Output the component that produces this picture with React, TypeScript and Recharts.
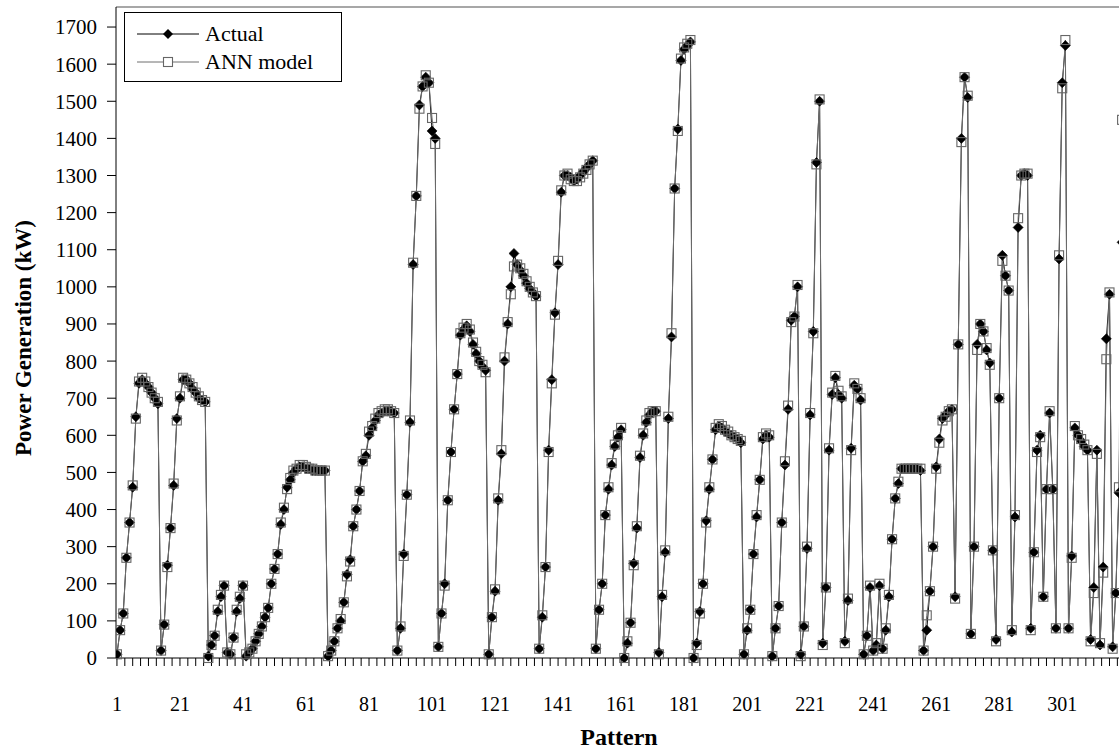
import React from 'react';
import { LineChart, Line, XAxis, YAxis, ReferenceLine } from 'recharts';

const FONT = '"Liberation Serif", "Times New Roman", Times, serif';

// Pattern index labels on the x axis
const xTickLabels = [1, 21, 41, 61, 81, 101, 121, 141, 161, 181, 201, 221, 241, 261, 281, 301];
// Minor tick marks every 2.5 patterns (8 per labelled interval)
const xTickMarks = Array.from({ length: 131 }, (_, k) => 1 + k * 2.5);
const yTicks = [0, 100, 200, 300, 400, 500, 600, 700, 800, 900, 1000, 1100, 1200, 1300, 1400, 1500, 1600, 1700];

// Actual power generation (kW), pattern 1..320
const actual = [
  10, 75, 120, 270, 365, 460, 650, 740, 750, 740, 730, 715, 700, 685,
  20, 90, 250, 350, 465, 645, 700, 750, 750, 740, 725, 715, 700, 695, 690,
  5, 35, 60, 125, 165, 195, 15, 10, 55, 125, 160, 195,
  5, 15, 25, 45, 65, 85, 110, 135, 200, 240, 280, 360, 400, 460, 480, 500, 510, 515, 515, 510, 510, 505, 505, 505, 505, 505,
  5, 20, 45, 80, 100, 150, 225, 265, 355, 400, 450, 530, 545, 600, 620, 640, 655, 660, 665, 665, 665, 660,
  20, 80, 280, 440, 635, 1060, 1245, 1490, 1540, 1565, 1550, 1420, 1400,
  30, 120, 200, 425, 555, 670, 765, 870, 885, 895, 880, 845, 820, 800, 785, 775,
  10, 110, 180, 425, 550, 800, 900, 1000, 1090, 1060, 1045, 1030, 1010, 995, 985, 975,
  25, 110, 245, 560, 750, 930, 1060, 1255, 1300, 1300, 1295, 1285, 1290, 1300, 1310, 1320, 1330, 1340,
  25, 130, 200, 385, 455, 520, 570, 595, 615,
  0, 40, 95, 255, 350, 540, 600, 635, 655, 665, 665,
  15, 165, 285, 645, 865, 1265, 1425, 1610, 1640, 1650, 1660,
  0, 40, 125, 200, 370, 455, 535, 615, 625, 620, 610, 605, 600, 595, 590, 580,
  10, 75, 130, 280, 380, 480, 590, 600, 595,
  5, 80, 140, 365, 520, 670, 910, 920, 1000,
  10, 85, 295, 655, 880, 1335, 1500,
  40, 190, 560, 710, 755, 710, 700,
  45, 155, 565, 735, 725, 695,
  10, 60, 190, 20, 35, 195, 25, 75, 165, 320, 430, 470, 510, 510, 510, 510, 510, 510, 505,
  20, 75, 180, 300, 515, 590, 645, 655, 665, 670,
  165, 845, 1400, 1565, 1510,
  65, 300, 845, 900, 880, 830, 795, 290,
  50, 700, 1085, 1030, 990,
  70, 380, 1160, 1300, 1305, 1300,
  80, 285, 560, 600, 165, 455, 660, 455,
  80, 1075, 1550, 1650,
  80, 275, 620, 600, 585, 570, 560,
  50, 190, 560, 35, 245, 860, 980, 30, 175, 445,
  1120,
];

// ANN model output (kW), pattern 1..320
const ann = [
  10, 75, 120, 270, 365, 465, 645, 745, 755, 745, 730, 715, 700, 690,
  20, 90, 245, 350, 470, 640, 705, 755, 750, 740, 730, 715, 705, 695, 690,
  0, 35, 60, 130, 170, 195, 15, 10, 55, 130, 165, 195,
  10, 15, 25, 45, 65, 85, 110, 135, 200, 240, 280, 365, 405, 455, 485, 505, 510, 520, 520, 515, 510, 510, 505, 505, 505, 505,
  5, 20, 45, 80, 105, 150, 220, 260, 355, 400, 450, 530, 550, 610, 625, 645, 660, 665, 670, 670, 665, 660,
  20, 85, 275, 440, 640, 1065, 1245, 1480, 1540, 1570, 1550, 1455, 1385,
  30, 120, 195, 425, 555, 670, 765, 875, 890, 900, 885, 850, 825, 800, 790, 770,
  10, 110, 185, 430, 560, 810, 905, 980, 1055, 1060, 1050, 1035, 1015, 1000, 985, 975,
  25, 115, 245, 555, 740, 925, 1070, 1260, 1300, 1305, 1290, 1285, 1285, 1295, 1305, 1315, 1330, 1340,
  25, 130, 200, 385, 460, 525, 575, 600, 620,
  0, 45, 95, 250, 355, 545, 605, 640, 660, 665, 665,
  10, 170, 290, 650, 875, 1265, 1420, 1615, 1645, 1655, 1665,
  0, 35, 120, 200, 365, 460, 535, 620, 630, 625, 615, 610, 600, 595, 590, 585,
  10, 80, 130, 280, 385, 480, 595, 605, 600,
  5, 80, 140, 365, 530, 680, 905, 920, 1005,
  5, 85, 300, 660, 875, 1330, 1505,
  35, 190, 565, 715, 760, 720, 705,
  40, 160, 560, 740, 725, 700,
  10, 60, 195, 20, 40, 200, 25, 80, 170, 320, 430, 475, 510, 510, 510, 510, 510, 510, 510,
  20, 115, 180, 300, 510, 580, 640, 650, 665, 670,
  160, 845, 1390, 1565, 1515,
  65, 300, 830, 900, 880, 835, 790, 290,
  45, 700, 1070, 1030, 990,
  75, 385, 1185, 1300, 1305, 1305,
  75, 285, 555, 595, 165, 455, 665, 455,
  80, 1085, 1535, 1665,
  80, 270, 625, 600, 590, 575, 560,
  45, 175, 550, 40, 230, 805, 985, 25, 175, 460,
  1450,
];

const data = actual.map((v, i) => ({ p: i + 1, actual: v, ann: ann[i] }));
const labelSet = new Set(xTickLabels);

const XTick = (props: any) => {
  const { x, y, payload } = props;
  if (!labelSet.has(payload.value)) return <g />;
  return (
    <text x={x} y={y + 29} dy="0.71em" textAnchor="middle" fontSize={20} fontFamily={FONT} fill="#000">
      {payload.value}
    </text>
  );
};

const YTick = (props: any) => {
  const { x, y, payload } = props;
  return (
    <text x={x} y={y} dy="0.355em" textAnchor="end" fontSize={21} fontFamily={FONT} fill="#000">
      {payload.value}
    </text>
  );
};

const Diamond = (props: any) => {
  const { cx, cy, index } = props;
  if (cx == null || cy == null) return <g key={`d${index}`} />;
  const r = 5;
  return (
    <path
      key={`d${index}`}
      d={`M${cx},${cy - r}L${cx + r},${cy}L${cx},${cy + r}L${cx - r},${cy}Z`}
      fill="#000"
      stroke="#000"
      strokeWidth={0.6}
    />
  );
};

const Square = (props: any) => {
  const { cx, cy, index } = props;
  if (cx == null || cy == null) return <g key={`s${index}`} />;
  return (
    <rect key={`s${index}`} x={cx - 4.5} y={cy - 4.5} width={9} height={9} fill="none" stroke="#666" strokeWidth={1.1} />
  );
};

export default function App() {
  return (
    <div style={{ position: 'absolute', left: 0, top: 0, width: 1119, height: 752, overflow: 'hidden', background: '#fff' }}>
      <LineChart width={1141} height={752} data={data} margin={{ top: 7, right: 0, bottom: 0, left: 0 }}>
        <XAxis
          dataKey="p"
          type="number"
          domain={[0.7, 326]}
          allowDataOverflow
          ticks={xTickMarks}
          interval={0}
          height={94}
          tickSize={8}
          axisLine={{ stroke: '#000', strokeWidth: 1 }}
          tickLine={{ stroke: '#000' }}
          tick={<XTick />}
        />
        <YAxis
          type="number"
          width={116}
          domain={[0, 1754]}
          ticks={yTicks}
          interval={0}
          tickSize={9}
          tickMargin={10}
          axisLine={{ stroke: '#000', strokeWidth: 1 }}
          tickLine={{ stroke: '#000' }}
          tick={<YTick />}
        />
        <ReferenceLine y={1754} stroke="#8a8a8a" strokeWidth={1.5} />
        <Line
          type="linear"
          dataKey="actual"
          stroke="#111"
          strokeWidth={1}
          dot={Diamond}
          isAnimationActive={false}
        />
        <Line
          type="linear"
          dataKey="ann"
          stroke="#6e6e6e"
          strokeWidth={1}
          dot={Square}
          isAnimationActive={false}
        />
      </LineChart>

      <div
        style={{
          position: 'absolute',
          left: 23,
          top: 338,
          transform: 'translate(-50%, -50%) rotate(-90deg)',
          fontFamily: FONT,
          fontWeight: 'bold',
          fontSize: 23,
          whiteSpace: 'nowrap',
          color: '#000',
          lineHeight: 1,
        }}
      >
        Power Generation (kW)
      </div>
      <div
        style={{
          position: 'absolute',
          left: 619,
          top: 737,
          transform: 'translate(-50%, -50%)',
          fontFamily: FONT,
          fontWeight: 'bold',
          fontSize: 24,
          whiteSpace: 'nowrap',
          color: '#000',
          lineHeight: 1,
        }}
      >
        Pattern
      </div>

      <div
        style={{
          position: 'absolute',
          left: 124,
          top: 12,
          width: 218,
          height: 70,
          border: '1px solid #000',
          background: '#fff',
          fontFamily: FONT,
          fontSize: 22,
          color: '#000',
          boxSizing: 'border-box',
          lineHeight: 1,
        }}
      >
        <div style={{ position: 'absolute', left: 12, top: 9, display: 'flex', alignItems: 'center', height: 24 }}>
          <svg width={62} height={16}>
            <line x1={0} y1={8} x2={62} y2={8} stroke="#000" strokeWidth={1} />
            <path d="M31,3L36,8L31,13L26,8Z" fill="#000" />
          </svg>
          <span style={{ marginLeft: 6 }}>Actual</span>
        </div>
        <div style={{ position: 'absolute', left: 12, top: 37, display: 'flex', alignItems: 'center', height: 24 }}>
          <svg width={62} height={16}>
            <line x1={0} y1={8} x2={62} y2={8} stroke="#6e6e6e" strokeWidth={1} />
            <rect x={26.5} y={3.5} width={9} height={9} fill="#fff" stroke="#666" strokeWidth={1.1} />
          </svg>
          <span style={{ marginLeft: 6 }}>ANN model</span>
        </div>
      </div>
    </div>
  );
}
